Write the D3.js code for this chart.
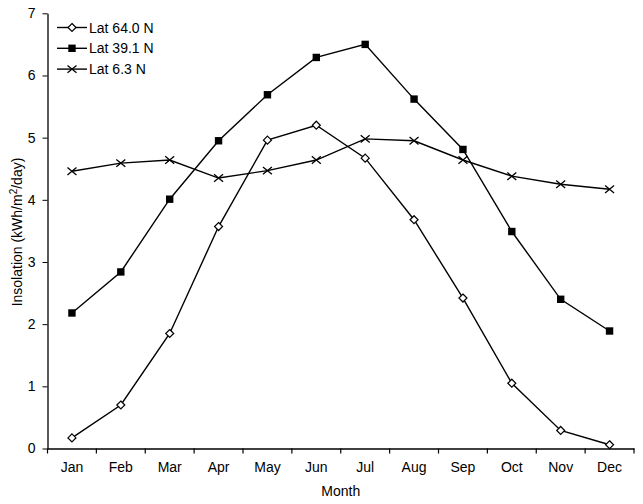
<!doctype html>
<html>
<head>
<meta charset="utf-8"/>
<script src="https://d3js.org/d3.v7.min.js"></script>
<style>
  body { margin: 0; background: #fff; }
  text { font-family: "Liberation Sans", Arial, sans-serif; fill: #000; }
</style>
</head>
<body>
<svg id="chart"></svg>
<script>
var months = ["Jan", "Feb", "Mar", "Apr", "May", "Jun", "Jul", "Aug", "Sep", "Oct", "Nov", "Dec"];
var lat64 = [0.17, 0.70, 1.85, 3.57, 4.96, 5.20, 4.67, 3.68, 2.42, 1.05, 0.29, 0.06];
var lat39 = [2.18, 2.84, 4.01, 4.95, 5.69, 6.29, 6.50, 5.62, 4.81, 3.49, 2.40, 1.89];
var lat6 = [4.46, 4.59, 4.64, 4.35, 4.47, 4.64, 4.98, 4.95, 4.64, 4.38, 4.25, 4.17];
var yTicks = [0, 1, 2, 3, 4, 5, 6, 7];

var series = [
  {name: "Lat 64.0 N", values: lat64, marker: "diamond"},
  {name: "Lat 39.1 N", values: lat39, marker: "square"},
  {name: "Lat 6.3 N", values: lat6, marker: "cross"}
];

var width = 643, height = 504;
var svg = d3.select("#chart").attr("width", width).attr("height", height);

var x = d3.scaleBand().domain(months).range([47.5, 634]);
var y = d3.scaleLinear().domain([0, 7]).range([448.5, 13.3]);

// axes
var xAxis = svg.append("g")
  .attr("transform", "translate(0," + y(0) + ")")
  .call(d3.axisBottom(x).tickSize(0).tickPadding(14));
xAxis.select(".domain").attr("stroke", "#000").attr("stroke-width", 1.3);
xAxis.selectAll("text").style("font-size", "14px");

// x tick marks at band edges
svg.append("g").selectAll("line")
  .data(months.concat(["end"]))
  .enter().append("line")
  .attr("x1", function(d, i) { return x.range()[0] + i * x.bandwidth(); })
  .attr("x2", function(d, i) { return x.range()[0] + i * x.bandwidth(); })
  .attr("y1", y(0))
  .attr("y2", y(0) + 5)
  .attr("stroke", "#000")
  .attr("stroke-width", 1.2);

var yAxis = svg.append("g")
  .attr("transform", "translate(" + x.range()[0] + ",0)")
  .call(d3.axisLeft(y).tickValues(yTicks).tickFormat(d3.format("d")).tickSize(5).tickPadding(7).tickSizeOuter(0));
yAxis.select(".domain").attr("stroke", "#000").attr("stroke-width", 1.3);
yAxis.selectAll("text").style("font-size", "14px");

// lines
var line = d3.line()
  .x(function(d, i) { return x(months[i]) + x.bandwidth() / 2; })
  .y(function(d) { return y(d); });

function drawMarker(g, type, cx, cy) {
  if (type === "diamond") {
    g.append("path")
      .attr("d", "M" + cx + "," + (cy - 4) + "L" + (cx + 4) + "," + cy + "L" + cx + "," + (cy + 4) + "L" + (cx - 4) + "," + cy + "Z")
      .attr("fill", "#fff").attr("stroke", "#000").attr("stroke-width", 1.2);
  } else if (type === "square") {
    g.append("rect")
      .attr("x", cx - 3.7).attr("y", cy - 3.7).attr("width", 7.4).attr("height", 7.4)
      .attr("fill", "#000");
  } else {
    g.append("path")
      .attr("d", "M" + (cx - 4.5) + "," + (cy - 3.7) + "L" + (cx + 4.5) + "," + (cy + 3.7) + "M" + (cx - 4.5) + "," + (cy + 3.7) + "L" + (cx + 4.5) + "," + (cy - 3.7))
      .attr("stroke", "#000").attr("stroke-width", 1.3).attr("fill", "none");
  }
}

series.forEach(function(s) {
  svg.append("path")
    .datum(s.values)
    .attr("d", line)
    .attr("fill", "none")
    .attr("stroke", "#000")
    .attr("stroke-width", 1.4);
});
series.forEach(function(s) {
  var g = svg.append("g");
  s.values.forEach(function(v, i) {
    drawMarker(g, s.marker, x(months[i]) + x.bandwidth() / 2, y(v));
  });
});

// legend
var legend = svg.append("g");
series.forEach(function(s, i) {
  var ly = 27.5 + i * 20.8;
  legend.append("line")
    .attr("x1", 57).attr("x2", 87).attr("y1", ly).attr("y2", ly)
    .attr("stroke", "#000").attr("stroke-width", 1.4);
  drawMarker(legend, s.marker, 72, ly);
  legend.append("text")
    .attr("x", 89).attr("y", ly + 5)
    .style("font-size", "14px")
    .text(s.name);
});

// axis titles
svg.append("text")
  .attr("x", (x.range()[0] + x.range()[1]) / 2)
  .attr("y", 496)
  .attr("text-anchor", "middle")
  .style("font-size", "14px")
  .text("Month");

var yl = svg.append("text")
  .attr("transform", "translate(22," + 232 + ") rotate(-90)")
  .attr("text-anchor", "middle")
  .style("font-size", "14px");
yl.append("tspan").text("Insolation (kWh/m");
yl.append("tspan").attr("dy", -5).style("font-size", "10px").text("2");
yl.append("tspan").attr("dy", 5).text("/day)");
</script>
</body>
</html>
